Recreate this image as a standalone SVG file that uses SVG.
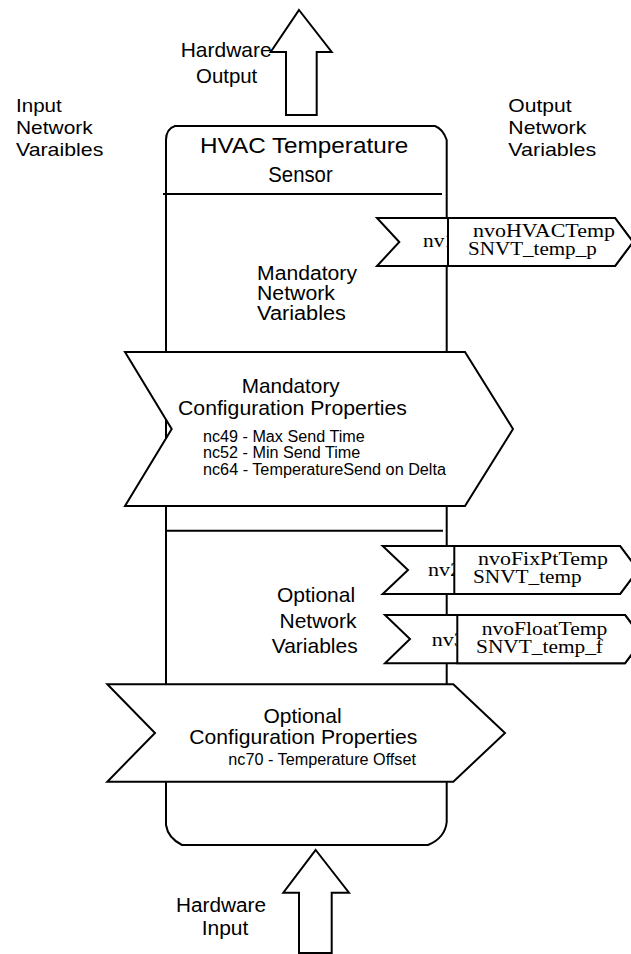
<svg xmlns="http://www.w3.org/2000/svg" width="631" height="954" viewBox="0 0 631 954">
<style>
.s{fill:#fff;stroke:#000;stroke-width:2;stroke-linejoin:miter}
.ln{fill:none;stroke:#000;stroke-width:2}
.a{font-family:"Liberation Sans",Arial,sans-serif;fill:#000}
.t{font-family:"Liberation Serif","Times New Roman",serif;fill:#000;font-size:18px}
</style>
<rect x="0" y="0" width="631" height="954" fill="#fff"/>
<g id="connectors">
<polygon class="s" points="299,10 331.7,52 316.7,52 316.7,115 286,115 286,52 270.7,52"/>
<polygon class="s" points="315.7,850 349,892.7 331.7,892.7 331.7,953 299,953 299,892.7 283.3,892.7"/>
</g>
<g id="hardware-output-label" class="a" font-size="21">
<text x="180.7" y="57.3" textLength="91" lengthAdjust="spacingAndGlyphs">Hardware</text>
<text x="196" y="83.3" textLength="61.3" lengthAdjust="spacingAndGlyphs">Output</text>
</g>
<g id="input-nv-label" class="a" font-size="19">
<text x="16" y="112.3" textLength="45.7" lengthAdjust="spacingAndGlyphs">Input</text>
<text x="16" y="134" textLength="76.7" lengthAdjust="spacingAndGlyphs">Network</text>
<text x="16" y="155.7" textLength="87.3" lengthAdjust="spacingAndGlyphs">Varaibles</text>
</g>
<g id="output-nv-label" class="a" font-size="19">
<text x="508.3" y="112.3" textLength="63.3" lengthAdjust="spacingAndGlyphs">Output</text>
<text x="508.3" y="134" textLength="78" lengthAdjust="spacingAndGlyphs">Network</text>
<text x="508.3" y="155.7" textLength="88" lengthAdjust="spacingAndGlyphs">Variables</text>
</g>
<g id="sensor-box">
<path class="s" d="M175,126 L435,126 Q443,129 446.7,140 L446.7,822 Q445,838 428,845 L182,845 Q168,838 166,825 L166,140 Q166,129 175,126 Z"/>
<line class="ln" x1="163" y1="194" x2="442" y2="194"/>
<line class="ln" x1="166" y1="530.7" x2="443" y2="530.7"/>
<g class="a" font-size="22">
<text x="200" y="153.3" textLength="208.3" lengthAdjust="spacingAndGlyphs">HVAC Temperature</text>
<text x="268.3" y="182" textLength="64.4" lengthAdjust="spacingAndGlyphs">Sensor</text>
</g>
<g class="a" font-size="19.5">
<text x="257" y="280" textLength="100" lengthAdjust="spacingAndGlyphs">Mandatory</text>
<text x="257" y="300" textLength="78" lengthAdjust="spacingAndGlyphs">Network</text>
<text x="257" y="320" textLength="89" lengthAdjust="spacingAndGlyphs">Variables</text>
</g>
<g class="a" font-size="21" text-anchor="middle">
<text x="316" y="601.7">Optional</text>
<text x="318" y="628">Network</text>
<text x="314.7" y="653">Variables</text>
</g>
</g>
<g id="nv1">
<polygon class="s" points="377,218 615,218 633,242 615,266 377,266 399.3,242"/>
<text class="t" x="423" y="247" textLength="32" lengthAdjust="spacingAndGlyphs">nv1</text>
<polygon class="s" points="448,218 615,218 633,242 615,266 448,266"/>
<text class="t" x="473" y="237" textLength="142" lengthAdjust="spacingAndGlyphs">nvoHVACTemp</text>
<text class="t" x="468" y="255" textLength="128.7" lengthAdjust="spacingAndGlyphs">SNVT_temp_p</text>
</g>
<g id="mandatory-config">
<polygon class="s" points="125,352 465,352 513,429 465,506 125,506 171.7,429"/>
<g class="a" font-size="21">
<text x="241.7" y="393" textLength="98" lengthAdjust="spacingAndGlyphs">Mandatory</text>
<text x="178" y="415" textLength="229" lengthAdjust="spacingAndGlyphs">Configuration Properties</text>
</g>
<g class="a" font-size="16">
<text x="203" y="441.7" textLength="161.7" lengthAdjust="spacingAndGlyphs">nc49 - Max Send Time</text>
<text x="203" y="458" textLength="157.3" lengthAdjust="spacingAndGlyphs">nc52 - Min Send Time</text>
<text x="203" y="475" textLength="243" lengthAdjust="spacingAndGlyphs">nc64 - TemperatureSend on Delta</text>
</g>
</g>
<g id="nv2">
<polygon class="s" points="382.7,546 620,546 638,570 620,594 382.7,594 408,570"/>
<text class="t" x="428" y="576" textLength="33" lengthAdjust="spacingAndGlyphs">nv2</text>
<polygon class="s" points="454.3,546 620,546 638,570 620,594 454.3,594"/>
<text class="t" x="478" y="565" textLength="130" lengthAdjust="spacingAndGlyphs">nvoFixPtTemp</text>
<text class="t" x="473" y="583" textLength="108.7" lengthAdjust="spacingAndGlyphs">SNVT_temp</text>
</g>
<g id="nv3">
<polygon class="s" points="385,615 625,615 643,639 625,663.3 385,663.3 410,639"/>
<text class="t" x="431.7" y="646" textLength="33" lengthAdjust="spacingAndGlyphs">nv3</text>
<polygon class="s" points="457.3,615 625,615 643,639 625,663.3 457.3,663.3"/>
<text class="t" x="481.7" y="635" textLength="125.7" lengthAdjust="spacingAndGlyphs">nvoFloatTemp</text>
<text class="t" x="476" y="653.3" textLength="127" lengthAdjust="spacingAndGlyphs">SNVT_temp_f</text>
</g>
<g id="optional-config">
<polygon class="s" points="107.3,684.3 453.3,684.3 505,733 453.3,781.7 107.3,781.7 155,733"/>
<g class="a" font-size="21">
<text x="302.5" y="723.3" text-anchor="middle">Optional</text>
<text x="189.3" y="744.3" textLength="228" lengthAdjust="spacingAndGlyphs">Configuration Properties</text>
</g>
<text class="a" font-size="16" x="228.3" y="765" textLength="187.7" lengthAdjust="spacingAndGlyphs">nc70 - Temperature Offset</text>
</g>
<g id="hardware-input-label" class="a" font-size="20">
<text x="176" y="911.7" textLength="90" lengthAdjust="spacingAndGlyphs">Hardware</text>
<text x="201.7" y="935" textLength="46.7" lengthAdjust="spacingAndGlyphs">Input</text>
</g>
</svg>
